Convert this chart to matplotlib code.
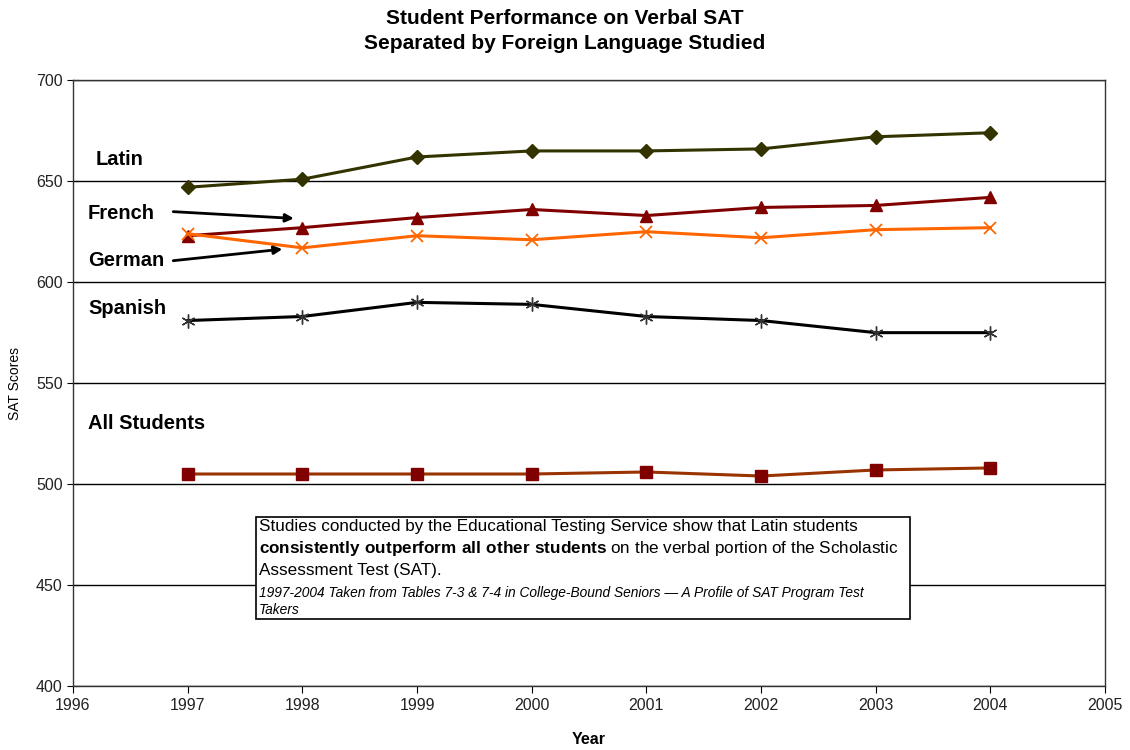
import matplotlib.pyplot as plt

years = [1997, 1998, 1999, 2000, 2001, 2002, 2003, 2004]
latin = [647, 651, 662, 665, 665, 666, 672, 674]
french = [623, 627, 632, 636, 633, 637, 638, 642]
german = [624, 617, 623, 621, 625, 622, 626, 627]
spanish = [581, 583, 590, 589, 583, 581, 575, 575]
all_students = [505, 505, 505, 505, 506, 504, 507, 508]

plt.rcParams['font.family'] = ['Liberation Sans', 'DejaVu Sans']
plt.rcParams['mathtext.fontset'] = 'custom'
plt.rcParams['mathtext.rm'] = 'Liberation Sans'
plt.rcParams['mathtext.bf'] = 'Liberation Sans:bold'

fig = plt.figure(figsize=(11.3, 7.5), dpi=100)
ax = fig.add_axes([0.0646, 0.0853, 0.9134, 0.8077])

ax.plot(years, latin, color='#333300', lw=2.2, marker='D', ms=7, zorder=3)
ax.plot(years, french, color='#800000', lw=2.2, marker='^', ms=8, zorder=3)
ax.plot(years, german, color='#FF6600', lw=2.2, marker='x', ms=9, mew=1.3, zorder=3)
ax.plot(years, spanish, color='black', lw=2.2, marker=(6, 2, 0), ms=10, mew=1.0, mec='#333333', zorder=3)
ax.plot(years, all_students, color='#993300', lw=2.2, marker='s', ms=8, mfc='#800000', mec='#800000', zorder=3)

ax.set_xlim(1996, 2005)
ax.set_ylim(400, 700)
ax.set_xticks(range(1996, 2006))
ax.set_yticks(range(400, 701, 50))
ax.tick_params(labelsize=11.5, length=5, labelcolor='#222222')
ax.tick_params(axis='y', direction='inout', length=8)
ax.yaxis.grid(True, color='black', lw=1)
ax.set_axisbelow(True)
for s in ax.spines.values():
    s.set_color('#333333')
    s.set_linewidth(1)

ax.set_xlabel('Year', fontsize=11.5, fontweight='bold', labelpad=14)
ax.set_ylabel('SAT Scores', fontsize=10, labelpad=10)

fig.suptitle('Student Performance on Verbal SAT\nSeparated by Foreign Language Studied',
             fontsize=15, fontweight='bold', y=0.988, linespacing=1.4)

lab = dict(fontsize=14.5, fontweight='bold', va='center')
ax.text(1996.2, 661, 'Latin', **lab)
ax.text(1996.13, 634, 'French', **lab)
ax.text(1996.13, 610.5, 'German', **lab)
ax.text(1996.13, 587, 'Spanish', **lab)
ax.text(1996.13, 530, 'All Students', **lab)

arrow = dict(arrowstyle='-|>', color='black', lw=2, mutation_scale=12)
ax.annotate('', xy=(1997.95, 631.5), xytext=(1996.85, 635), arrowprops=arrow)
ax.annotate('', xy=(1997.85, 616.5), xytext=(1996.85, 610.5), arrowprops=arrow)

box_txt = ('Studies conducted by the Educational Testing Service show that Latin students\n'
           r'$\bf{consistently\ outperform\ all\ other\ students}$ on the verbal portion of the Scholastic' + '\n'
           'Assessment Test (SAT).')
ax.add_patch(plt.Rectangle((1997.6, 433), 5.7, 50.5, fill=True, facecolor='white',
                           edgecolor='black', lw=1.2, zorder=4))
ax.text(1997.62, 482.8, box_txt, fontsize=12.3, va='top', ha='left', linespacing=1.4, zorder=5)
ax.text(1997.62, 449.3, '1997-2004 Taken from Tables 7-3 & 7-4 in College-Bound Seniors \u2014 A Profile of SAT Program Test\nTakers',
        fontsize=9.9, style='italic', va='top', ha='left', linespacing=1.2, zorder=5)

fig.savefig('out.png', dpi=100)
